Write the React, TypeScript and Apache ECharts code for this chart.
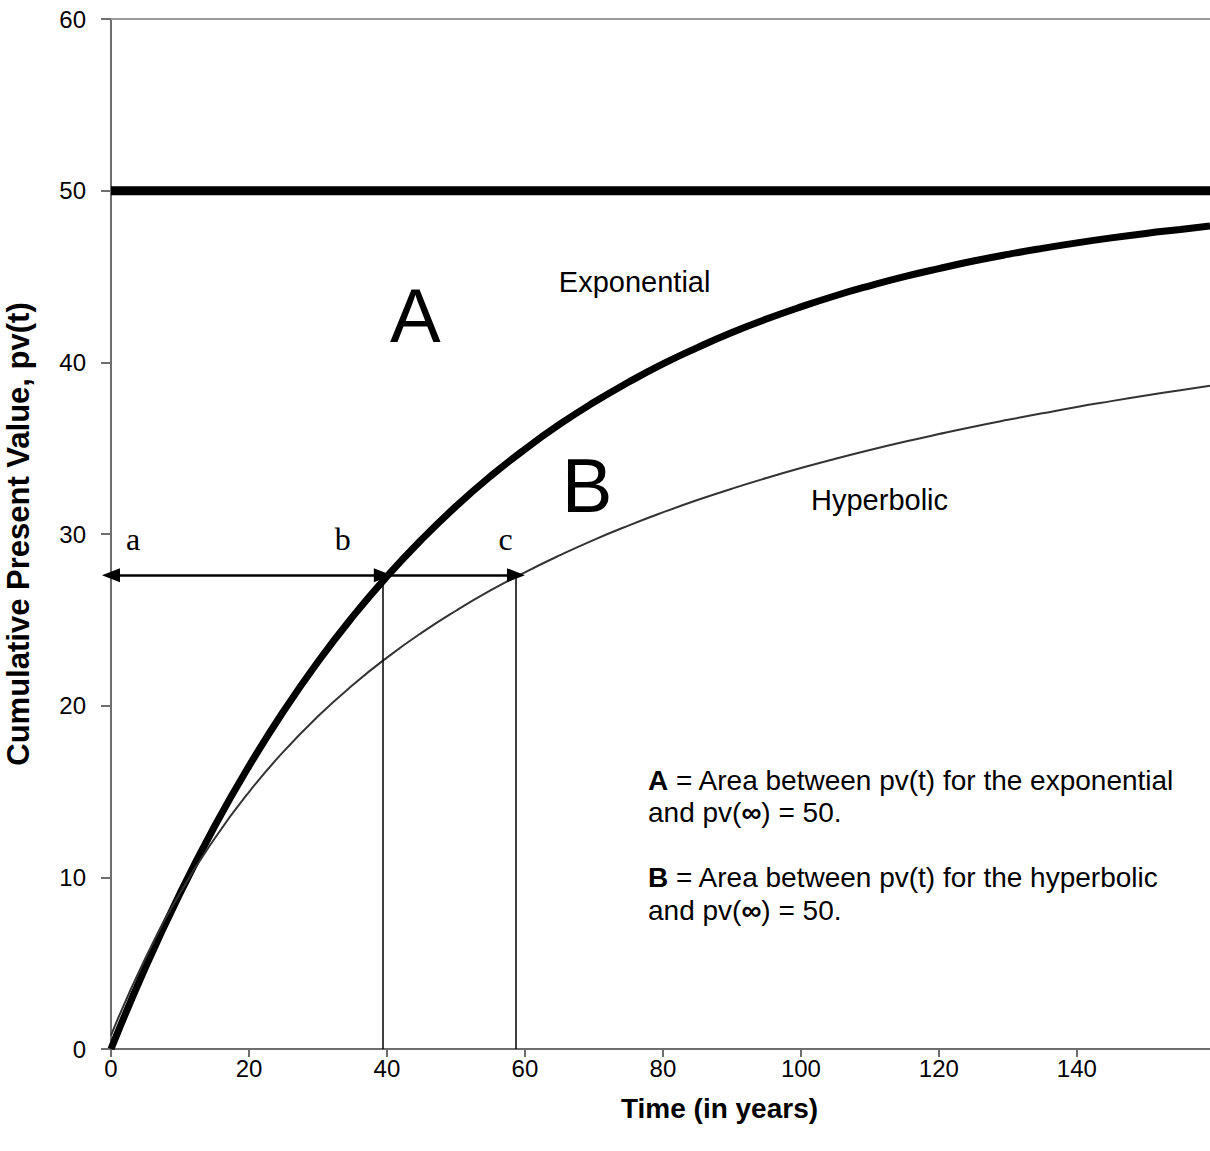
import React, { useEffect, useRef } from "react";
import * as echarts from "echarts";

const years = [0, 5, 10, 15, 20, 25, 30, 35, 40, 45, 50, 55, 60, 65, 70, 75, 80, 85, 90, 95, 100, 105, 110, 115, 120, 125, 130, 135, 140, 145, 150, 155, 159.3];
// Cumulative present value, exponential discounting (thick curve)
const exponential = [0, 4.76, 9.06, 12.96, 16.48, 19.67, 22.56, 25.17, 27.53, 29.67, 31.61, 33.36, 34.94, 36.38, 37.67, 38.84, 39.91, 40.86, 41.74, 42.52, 43.23, 43.88, 44.46, 44.99, 45.46, 45.9, 46.29, 46.64, 46.96, 47.25, 47.51, 47.74, 47.94];
// Cumulative present value, hyperbolic discounting (thin curve)
const hyperbolic = [0.8, 5.3, 9.08, 12.25, 14.97, 17.32, 19.38, 21.19, 22.8, 24.24, 25.53, 26.71, 27.77, 28.75, 29.66, 30.49, 31.26, 31.98, 32.64, 33.26, 33.84, 34.38, 34.89, 35.37, 35.82, 36.25, 36.65, 37.03, 37.4, 37.74, 38.07, 38.38, 38.64];
// Asymptote pv(inf)
const asymptote = 50;
// Marked times a, b, c and the level of the arrows
const markA = 0;
const markB = 39.4;
const markC = 58.7;
const arrowLevel = 27.6;
const xTicks = { min: 0, max: 159.3, interval: 20 };
const yTicks = { min: 0, max: 60, interval: 10 };

// Text labels placed in data coordinates: [x, y, text]
const letterLabels: [number, number, string][] = [
  [3.2, 29.7, "a"],
  [33.6, 29.7, "b"],
  [57.2, 29.7, "c"],
];
const areaLabels: [number, number, string][] = [
  [44.1, 42.75, "A"],
  [69.0, 32.8, "B"],
];
const curveLabels: [number, number, string][] = [
  [75.9, 44.7, "Exponential"],
  [111.4, 32.0, "Hyperbolic"],
];

const sans = "Liberation Sans, Arial, sans-serif";
const serif = "Liberation Serif, DejaVu Serif, serif";

export default function App() {
  const ref = useRef<HTMLDivElement>(null);
  useEffect(() => {
    if (!ref.current) return;
    const chart = echarts.init(ref.current, undefined, { renderer: "svg" });
    const pair = (a: number[], b: number[]) => a.map((v, i) => [v, b[i]]);
    const textSeries = (data: [number, number, string][], size: number, family: string) => ({
      type: "scatter",
      symbolSize: 0,
      silent: true,
      z: 10,
      itemStyle: { opacity: 1 },
      data: data.map((d) => ({ value: [d[0], d[1]], name: d[2] })),
      label: {
        show: true,
        position: "inside",
        formatter: (p: any) => p.name,
        fontSize: size,
        fontFamily: family,
        color: "#000",
        opacity: 1,
        textBorderWidth: 0,
      },
    });
    chart.setOption({
      animation: false,
      backgroundColor: "#fff",
      grid: { left: 111, top: 19, right: 0, bottom: 102, outerBoundsMode: "none", containLabel: false },
      xAxis: [
        {
          type: "value",
          min: xTicks.min,
          max: xTicks.max,
          interval: xTicks.interval,
          name: "Time (in years)",
          nameLocation: "middle",
          nameGap: 45,
          nameTextStyle: { fontSize: 28, fontWeight: "bold", fontFamily: sans, color: "#000", padding: [0, 0, 0, 118] },
          axisLine: { show: true, onZero: false, lineStyle: { color: "#6e6e6e", width: 2 } },
          axisTick: { show: true, length: 8, lineStyle: { color: "#6e6e6e", width: 2 } },
          axisLabel: { fontSize: 24, fontFamily: sans, color: "#000", margin: 7, showMaxLabel: false },
          splitLine: { show: false },
        },
        {
          type: "value",
          position: "top",
          min: xTicks.min,
          max: xTicks.max,
          axisLine: { show: true, onZero: false, lineStyle: { color: "#9a9a9a", width: 2 } },
          axisTick: { show: false },
          axisLabel: { show: false },
          splitLine: { show: false },
        },
      ],
      yAxis: {
        type: "value",
        min: yTicks.min,
        max: yTicks.max,
        interval: yTicks.interval,
        name: "Cumulative Present Value, pv(t)",
        nameLocation: "middle",
        nameGap: 77,
        nameTextStyle: { fontSize: 31, fontWeight: "bold", fontFamily: sans, color: "#000" },
        axisLine: { show: true, onZero: false, lineStyle: { color: "#6e6e6e", width: 2 } },
        axisTick: { show: true, length: 10, lineStyle: { color: "#6e6e6e", width: 2 } },
        axisLabel: { fontSize: 24, fontFamily: sans, color: "#000", margin: 25 },
        splitLine: { show: false },
      },
      series: [
        {
          type: "line",
          name: "Asymptote",
          data: [[xTicks.min, asymptote], [xTicks.max, asymptote]],
          symbol: "none",
          lineStyle: { color: "#000", width: 9 },
          silent: true,
        },
        {
          type: "line",
          name: "Hyperbolic",
          data: pair(years, hyperbolic),
          smooth: true,
          symbol: "none",
          lineStyle: { color: "#333", width: 2 },
          z: 3,
          silent: true,
        },
        {
          type: "line",
          name: "Exponential",
          data: pair(years, exponential),
          smooth: true,
          symbol: "none",
          lineStyle: { color: "#000", width: 7 },
          z: 2,
          silent: true,
          markLine: {
            silent: true,
            label: { show: false },
            data: [
              [
                { coord: [markA, arrowLevel], symbol: "triangle", symbolSize: [14, 18], symbolRotate: 90 },
                { coord: [markB, arrowLevel], symbol: "triangle", symbolSize: [14, 18] },
              ],
              [
                { coord: [markB, arrowLevel], symbol: "none" },
                { coord: [markC, arrowLevel], symbol: "triangle", symbolSize: [14, 18] },
              ],
              [
                { coord: [markB, 0], symbol: "none", lineStyle: { width: 1.5 } },
                { coord: [markB, arrowLevel], symbol: "none" },
              ],
              [
                { coord: [markC, 0], symbol: "none", lineStyle: { width: 1.5 } },
                { coord: [markC, arrowLevel], symbol: "none" },
              ],
            ],
            lineStyle: { color: "#000", width: 2.5, type: "solid" },
          },
        },
        textSeries(letterLabels, 32, serif),
        textSeries(areaLabels, 76, sans),
        textSeries(curveLabels, 29, sans),
      ],
      graphic: [
        {
          type: "text",
          left: 648,
          top: 764,
          style: {
            text:
              "{b|A} = Area between pv(t) for the exponential\nand pv({b|∞}) = 50.\n\n{b|B} = Area between pv(t) for the hyperbolic\nand pv({b|∞}) = 50.",
            font: "28px " + sans,
            fill: "#000",
            lineHeight: 32.5,
            rich: {
              b: { fontWeight: "bold", fontSize: 28, fontFamily: sans, fill: "#000", lineHeight: 32.5 },
            },
          },
        },
      ],
    });
    return () => chart.dispose();
  }, []);
  return (
    <div
      ref={ref}
      style={{ position: "fixed", left: 0, top: 0, width: 1210, height: 1151, background: "#fff" }}
    />
  );
}
